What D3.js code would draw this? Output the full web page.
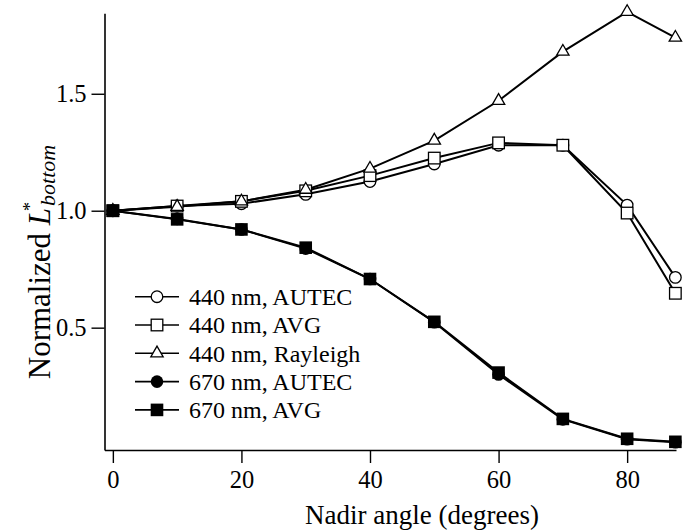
<!DOCTYPE html>
<html><head><meta charset="utf-8">
<script src="https://cdn.jsdelivr.net/npm/d3@7"></script>
<style>body{margin:0;background:#fff}</style>
</head><body>
<svg id="chart" width="683" height="531"></svg>
<script>
const angles = [0, 10, 20, 30, 40, 50, 60, 70, 80, 87.5];
const autec440 = [1.0, 1.02, 1.03, 1.07, 1.125, 1.20, 1.28, 1.28, 1.024, 0.715];
const avg440 = [1.0, 1.02, 1.04, 1.085, 1.15, 1.225, 1.29, 1.28, 0.99, 0.647];
const rayleigh440 = [1.0, 1.017, 1.04, 1.09, 1.18, 1.30, 1.47, 1.68, 1.85, 1.74];
const autec670 = [1.0, 0.965, 0.92, 0.838, 0.708, 0.523, 0.300, 0.108, 0.023, 0.010];
const avg670 = [1.0, 0.963, 0.92, 0.842, 0.708, 0.525, 0.308, 0.110, 0.025, 0.012];
const seriesNames = ["440 nm, AUTEC", "440 nm, AVG", "440 nm, Rayleigh", "670 nm, AUTEC", "670 nm, AVG"];
const markerTypes = ["circleOpen", "squareOpen", "triangleOpen", "circleFilled", "squareFilled"];
const xTicks = [0, 20, 40, 60, 80];
const yTicks = [0.5, 1.0, 1.5];

const seriesValues = [autec440, avg440, rayleigh440, autec670, avg670];
const FONT = "'Liberation Serif','Times New Roman',serif";

const svg = d3.select("#chart");
const x = d3.scaleLinear().domain([-1.3, 87.6]).range([104.5, 676]);
const y = d3.scaleLinear().domain([-0.023, 1.844]).range([450, 13.3]);

// axes
const gx = svg.append("g").attr("transform", "translate(0,450)")
  .call(d3.axisBottom(x).tickValues(xTicks).tickSize(13).tickSizeOuter(0).tickPadding(8).tickFormat(d3.format("d")));
const gy = svg.append("g").attr("transform", "translate(104.5,0)")
  .call(d3.axisLeft(y).tickValues(yTicks).tickSize(13).tickSizeOuter(0).tickPadding(5).tickFormat(d3.format(".1f")));
[gx, gy].forEach(g => {
  g.select(".domain").attr("stroke", "#000").attr("stroke-width", 1.6);
  g.selectAll(".tick line").attr("stroke", "#000").attr("stroke-width", 1.4);
  g.selectAll(".tick text").attr("font-family", FONT).attr("font-size", 24.5).attr("fill", "#000");
});
gx.selectAll(".tick text").attr("dy", "0.71em");
gy.selectAll(".tick text").attr("dy", "0.33em");

// lines
const line = d3.line().x((d, i) => x(angles[i])).y(d => y(d));
seriesValues.forEach((vals, k) => {
  svg.append("path").datum(vals).attr("d", line)
    .attr("fill", "none").attr("stroke", "#000").attr("stroke-width", 2);
});

function drawMarker(g, type, cx, cy) {
  if (type === "circleOpen") {
    g.append("circle").attr("cx", cx).attr("cy", cy).attr("r", 5.8).attr("fill", "#fff").attr("stroke", "#000").attr("stroke-width", 1.3);
  } else if (type === "squareOpen") {
    g.append("rect").attr("x", cx - 5.8).attr("y", cy - 5.8).attr("width", 11.6).attr("height", 11.6).attr("fill", "#fff").attr("stroke", "#000").attr("stroke-width", 1.3);
  } else if (type === "triangleOpen") {
    g.append("path").attr("transform", `translate(${cx},${cy})`).attr("d", d3.symbol(d3.symbolTriangle, 66)()).attr("fill", "#fff").attr("stroke", "#000").attr("stroke-width", 1.3);
  } else if (type === "circleFilled") {
    g.append("circle").attr("cx", cx).attr("cy", cy).attr("r", 6.3).attr("fill", "#000");
  } else if (type === "squareFilled") {
    g.append("rect").attr("x", cx - 6.3).attr("y", cy - 6.3).attr("width", 12.6).attr("height", 12.6).attr("fill", "#000");
  }
}

seriesValues.forEach((vals, k) => {
  const g = svg.append("g");
  vals.forEach((v, i) => drawMarker(g, markerTypes[k], x(angles[i]), y(v)));
});

// legend
const lg = svg.append("g");
seriesNames.forEach((name, k) => {
  const cy = 296.7 + k * 28.3;
  lg.append("line").attr("x1", 135).attr("x2", 179).attr("y1", cy).attr("y2", cy).attr("stroke", "#000").attr("stroke-width", 1.6);
  drawMarker(lg, markerTypes[k], 157, cy);
  lg.append("text").attr("x", 189).attr("y", cy).attr("dy", "0.35em")
    .attr("font-family", FONT).attr("font-size", 24).attr("fill", "#000").text(name);
});

// axis titles
svg.append("text").attr("x", 422).attr("y", 524).attr("text-anchor", "middle")
  .attr("font-family", FONT).attr("font-size", 27).attr("fill", "#000").text("Nadir angle (degrees)");

const yt = svg.append("text").attr("transform", "translate(50,262) rotate(-90)").attr("text-anchor", "middle")
  .attr("font-family", FONT).attr("font-size", 31).attr("fill", "#000");
yt.append("tspan").text("Normalized ");
yt.append("tspan").attr("font-style", "italic").text("L");
yt.append("tspan").attr("font-size", 18).attr("dy", -14).attr("dx", -3).text("*");
yt.append("tspan").attr("font-style", "italic").attr("font-size", 22).attr("dy", 19).attr("dx", -4).text("bottom");
</script>
</body></html>
